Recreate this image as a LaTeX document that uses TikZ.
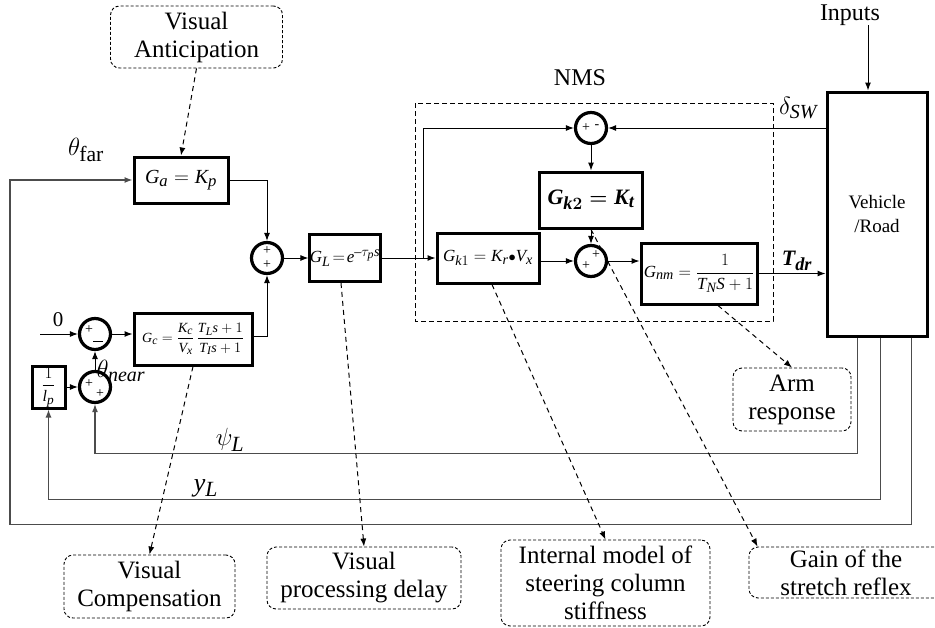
\documentclass[tikz,border=0pt]{standalone}
\usepackage{amsmath}
\usepackage{fontspec}
\setmainfont{Liberation Serif}
\usepackage[italic]{mathastext}
\usetikzlibrary{arrows.meta,calc}
\newcommand{\fsz}[2]{\fontsize{#1}{#2}\selectfont}
\begin{document}
\begin{tikzpicture}[x=1pt,y=-1pt,
  blk/.style={draw, line width=3pt, inner sep=0pt, align=center},
  sumj/.style={draw, circle, line width=3.2pt, minimum size=31pt, inner sep=0pt},
  note/.style={draw, dash pattern=on 3pt off 2pt, rounded corners=9pt, line width=0.9pt,
               align=center, inner sep=0pt, font=\fsz{25}{28}},
  link/.style={line width=1pt, -{Latex[length=8pt,width=6pt]}},
  fb/.style={line width=1.2pt, draw=black!70, -{Latex[length=8pt,width=6pt]}},
  hint/.style={dash pattern=on 5pt off 4pt, line width=1pt, -{Latex[length=8pt,width=6pt]}},
  sgn/.style={font=\fsz{14}{14}, inner sep=0pt},
  lbl/.style={inner sep=0pt}]
\useasboundingbox (0,0) rectangle (935,627);

% ---- blocks ----
\node[blk, minimum width=94pt, minimum height=46pt, font=\fsz{20}{24}] (ga) at (181,180) {$G_a = K_p$};
\node[blk, minimum width=118pt, minimum height=52pt, font=\fsz{14}{16}] (gc) at (193,339)
  {$G_c=\dfrac{K_c}{V_x}\,\dfrac{T_L s+1}{T_I s+1}$};
\node[blk, minimum width=33pt, minimum height=42pt, font=\fsz{16}{18}] (lp) at (48.5,387) {$\dfrac{1}{l_p}$};
\node[blk, minimum width=64pt, minimum height=47pt, font=\fsz{17}{20}] (gl) at (345,258) {$G_L\!=\!e^{-\tau_p s}$};
\node[blk, minimum width=102pt, minimum height=50pt, font=\fsz{17}{20}] (gk1) at (488,258) {$G_{k1} = K_r{\scriptstyle\bullet}V_x$};
\node[blk, minimum width=103pt, minimum height=56pt, font=\fsz{22}{26}] (gk2) at (591,200) {$\boldsymbol{G_{k2} = K_t}$};
\node[blk, minimum width=116pt, minimum height=61pt, font=\fsz{17}{20}] (gnm) at (699,273.5) {$G_{nm} = \dfrac{1}{T_N S + 1}$};
\node[blk, minimum width=100pt, minimum height=244pt, font=\fsz{19}{24}] (veh) at (877,214) {Vehicle\\/Road};

% ---- summing junctions ----
\node[sumj] (sa) at (267,258) {};
\node[sumj] (sb) at (95,334) {};
\node[sumj] (sc) at (95,387) {};
\node[sumj] (sn1) at (591,128) {};
\node[sumj] (sn2) at (591,261) {};
\node[sgn] at ($(sa)+(0,-7)$) {+};
\node[sgn] at ($(sa)+(0,7)$) {+};
\node[sgn] at ($(sb)+(-6,-4)$) {+};
\node[sgn] at ($(sb)+(3,7)$) {\rule{10pt}{1pt}};
\node[sgn] at ($(sc)+(-6,-3)$) {+};
\node[sgn] at ($(sc)+(5,7)$) {+};
\node[sgn] at ($(sn1)+(-5,0)$) {+};
\node[sgn] at ($(sn1)+(6,-1)$) {-};
\node[sgn] at ($(sn2)+(5,-6)$) {+};
\node[sgn] at ($(sn2)+(-5,5)$) {+};

% ---- neuromuscular system frame ----
\draw[line width=1pt, dash pattern=on 5pt off 3pt] (415,103) rectangle (773,321);
\node[lbl, font=\fsz{24}{28}] (nmslbl) at (580,78) {NMS};

% ---- annotations ----
\node[note, minimum width=172pt, minimum height=62pt] (antic) at (196.5,37) {Visual\\Anticipation};
\node[note, minimum width=171pt, minimum height=63pt] (comp) at (149.5,586.5) {Visual\\Compensation};
\node[note, minimum width=194pt, minimum height=62pt] (delay) at (364,578) {Visual\\processing delay};
\node[note, minimum width=209pt, minimum height=86pt] (intm) at (605.5,583) {Internal model of\\steering column\\stiffness};
\node[note, minimum width=194pt, minimum height=51pt] (gain) at (846,572.5) {Gain of the\\stretch reflex};
\node[note, minimum width=118pt, minimum height=63pt] (arm) at (792,399.5) {Arm\\response};

% ---- signal labels ----
\node[lbl, font=\fsz{24}{28}] (inlbl) at (850,15) {Inputs};
\node[lbl, font=\fsz{26}{30}] at (86,150) {$\theta_{\mathrm{far}}$};
\node[lbl, font=\fsz{21}{25}] at (58,320) {0};
\node[lbl, font=\fsz{24}{28}] at (121,371) {$\theta_{near}$};
\node[lbl, font=\fsz{26}{30}] at (230,440) {$\psi_L$};
\node[lbl, font=\fsz{26}{30}] at (206,488) {$y_L$};
\node[lbl, font=\fsz{24}{28}] at (798,108) {$\delta_{SW}$};
\node[lbl, font=\fsz{22}{26}] at (797,261) {$\boldsymbol{T_{dr}}$};

% ---- forward path ----
\coordinate (zin) at (40,334);
\coordinate (br) at (423,258);
\coordinate (inp) at (868,25);
\draw[link] (zin) -- (sb.west);
\draw[link] (sb.east) -- (sb.east -| gc.west);
\draw[link] (sc.north) -- (sb.south);
\draw[link] (lp.east) -- (sc.west);
\draw[link] (ga.east) -| (sa.north);
\draw[link] ($(gc.east)+(0,-3)$) -| (sa.south);
\draw[link] (sa.east) -- (gl.west);
\draw[link] (gl.east) -- (gk1.west);
\draw[link] (br) |- (sn1.west);
\draw[link] (sn1 -| veh.west) -- (sn1.east);
\draw[link] (sn1.south) -- (gk2.north);
\draw[link] (gk2.south) -- (sn2.north);
\draw[link] (gk1.east |- sn2) -- (sn2.west);
\draw[link] (sn2.east) -- (sn2.east -| gnm.west);
\draw[link] (gnm.east) -- (gnm.east -| veh.west);
\draw[link] (inp) -- (inp |- veh.north);

% ---- feedback paths ----
\coordinate (v1) at ($(veh.south west)+(32,0)$);
\coordinate (v2) at ($(veh.south west)+(55,0)$);
\coordinate (v3) at ($(veh.south west)+(86,0)$);
\coordinate (lc) at (10,180);
\draw[fb] (v1) -- ++(0,116) -| (sc.south);
\draw[fb] (v2) -- ++(0,162) -| (lp.south);
\draw[fb] (v3) -- ++(0,187) -| (lc) -- (ga.west);

% ---- annotation pointers ----
\draw[hint] (antic.south) -- (ga.north);
\draw[hint] (gc.south) -- (comp.north);
\draw[hint] ($(gl.south)+(-4,0)$) -- (delay.north);
\draw[hint] ($(gk1.south)+(4,0)$) -- (intm.north);
\draw[hint] (gk2.south) -- ($(gain.north west)+(9,0)$);
\draw[hint] ($(gnm.south)+(19,0)$) -- (arm.north);
\end{tikzpicture}
\end{document}
